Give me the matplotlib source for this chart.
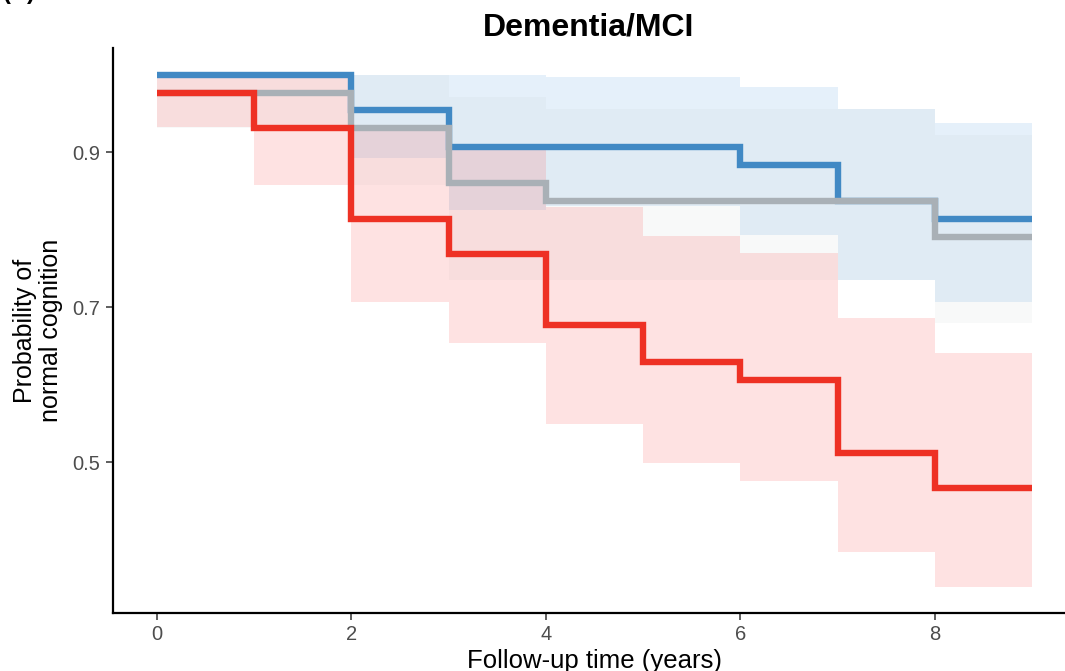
import numpy as np
import matplotlib
matplotlib.use("Agg")
import matplotlib.pyplot as plt

plt.rcParams['font.family'] = ['Liberation Sans', 'DejaVu Sans']

# Temps de suivi (bords des paliers) et valeurs, un palier par intervalle
times = [0, 1, 2, 3, 4, 5, 6, 7, 8, 9]

blue_surv = [1.0, 1.0, 0.954, 0.906, 0.906, 0.906, 0.883, 0.837, 0.814]
blue_upper = [1.0, 1.0, 0.999, 0.999, 0.997, 0.997, 0.984, 0.955, 0.937]
blue_lower = [1.0, 1.0, 0.892, 0.825, 0.830, 0.830, 0.793, 0.735, 0.706]

grey_surv = [0.976, 0.976, 0.931, 0.860, 0.837, 0.837, 0.837, 0.837, 0.790]
grey_upper = [1.0, 1.0, 1.0, 0.971, 0.955, 0.955, 0.955, 0.955, 0.922]
grey_lower = [0.931, 0.931, 0.857, 0.735, 0.735, 0.735, 0.735, 0.735, 0.679]

red_surv = [0.976, 0.931, 0.814, 0.768, 0.677, 0.629, 0.606, 0.512, 0.466]
red_upper = [1.0, 1.0, 0.930, 0.906, 0.829, 0.792, 0.770, 0.686, 0.641]
red_lower = [0.932, 0.857, 0.706, 0.654, 0.549, 0.499, 0.475, 0.384, 0.339]

x_ticks = [0, 2, 4, 6, 8]
y_ticks = [0.5, 0.7, 0.9]

W, H = 1065, 671
fig = plt.figure(figsize=(W / 100, H / 100), dpi=100)
# position de l'axe en pixels (le panneau déborde un peu à droite, comme l'image d'origine)
left, right, top, bottom = 113, 1076, 48, 613
ax = fig.add_axes([left / W, 1 - bottom / H, (right - left) / W, (bottom - top) / H])

groups = [
    (blue_surv, blue_lower, blue_upper, '#4189c4', '#7fb6e6', 0.2),
    (grey_surv, grey_lower, grey_upper, '#a9b0b6', '#b0b4b8', 0.08),
    (red_surv, red_lower, red_upper, '#ee3124', '#fa6e6e', 0.2),
]

for surv, low, up, line_col, fill_col, a in groups:
    ax.fill_between(times, low + [low[-1]], up + [up[-1]], step='post',
                    color=fill_col, alpha=a, linewidth=0)
    ax.step(times, surv + [surv[-1]], where='post', color=line_col, lw=4.6,
            solid_joinstyle='miter', solid_capstyle='butt')

ax.set_xlim(-0.45, 9.45)
ax.set_ylim(0.3052, 1.0342)
ax.set_xticks(x_ticks)
ax.set_yticks(y_ticks)
ax.set_yticklabels([f"{v:.1f}" for v in y_ticks])

for s in ['top', 'right']:
    ax.spines[s].set_visible(False)
for s in ['left', 'bottom']:
    ax.spines[s].set_linewidth(1.6)
ax.tick_params(axis='both', length=5, width=1.1, color='#333333',
               labelcolor='#4d4d4d', labelsize=14.5, pad=4)

ax.set_xlabel("Follow-up time (years)", fontsize=18.5, labelpad=3)
ax.set_ylabel("Probability of\nnormal cognition", fontsize=18, labelpad=7,
              linespacing=1.1)

fig.text(589 / W, 1 - 28 / H, "Dementia/MCI", ha='center', va='center',
         fontsize=23, fontweight='bold')
# étiquette du panneau, coupée en haut de l'image
fig.text(3 / W, 1 + 1.5 / H, "(B)", ha='left', va='baseline',
         fontsize=17, fontweight='bold')

fig.savefig("out.png", dpi=100)
